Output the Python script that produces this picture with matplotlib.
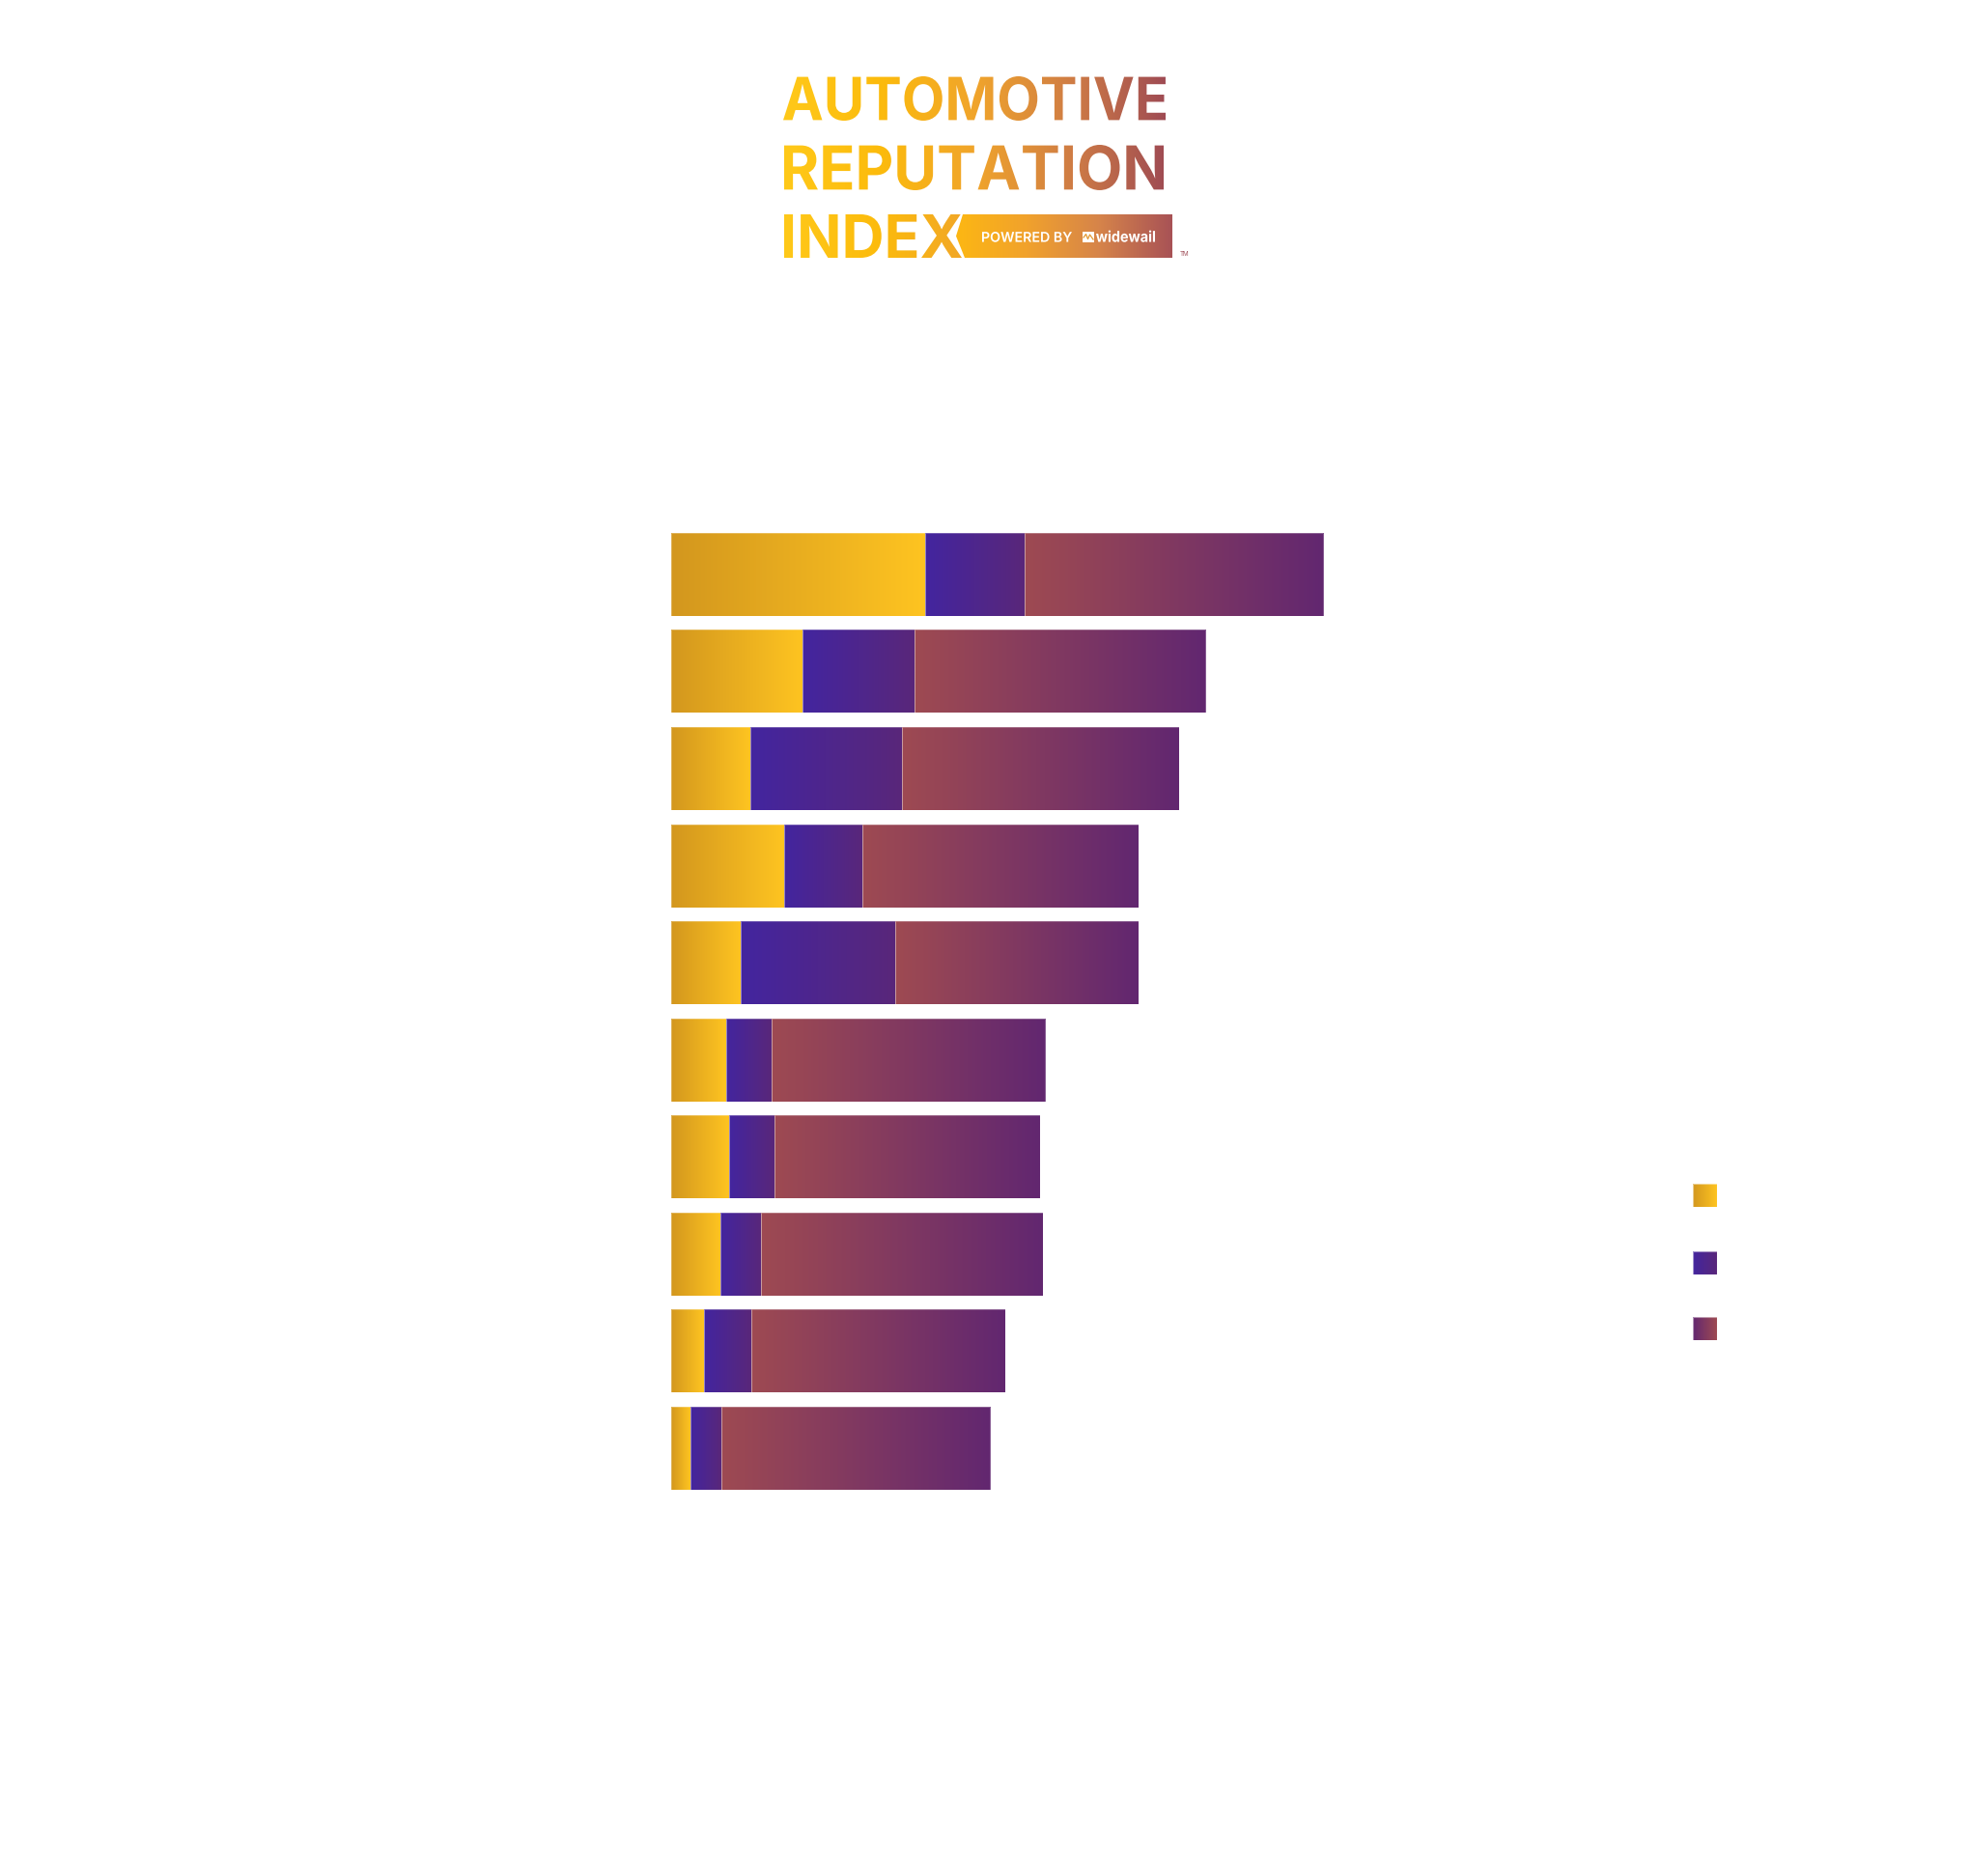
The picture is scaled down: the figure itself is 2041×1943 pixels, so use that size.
import numpy as np
import matplotlib
matplotlib.use('Agg')
import matplotlib.pyplot as plt
from matplotlib.colors import LinearSegmentedColormap
from matplotlib.textpath import TextPath
from matplotlib.font_manager import FontProperties
from matplotlib.patches import PathPatch, Polygon, Rectangle
from matplotlib.transforms import Affine2D

# series values (arbitrary units)
rows = list(range(10))
series_a = [105.0, 54.4, 32.8, 46.6, 28.6, 22.6, 24.0, 20.2, 13.6, 7.9]
series_b = [41.2, 46.4, 62.6, 32.7, 64.1, 18.8, 18.7, 17.1, 19.5, 12.7]
series_c = [123.8, 120.5, 114.8, 114.2, 100.8, 113.3, 110.0, 116.6, 105.2, 111.3]

# gradients for each series (left -> right)
grad_a = ['#D3971E', '#FEC421']
grad_b = ['#43259F', '#59277A']
grad_c = ['#9E4A52', '#622770']
logo_grad = ['#FFC91A', '#FCBB0C', '#F0A42C', '#CF7C45', '#9D4954']
banner_grad = ['#FDB812', '#F1A22C', '#D6844A', '#A85256']

W, H = 2041, 1943
fig = plt.figure(figsize=(W / 100, H / 100), dpi=100)
fig.patch.set_facecolor('white')

hgrad = np.linspace(0, 1, 256).reshape(1, -1)


def gradient_fill(ax, patch, colors, zorder=2, reverse=False):
    # paint a horizontal gradient clipped to a patch
    cmap = LinearSegmentedColormap.from_list('g', colors)
    x0, y0 = patch.get_x(), patch.get_y()
    x1, y1 = x0 + patch.get_width(), y0 + patch.get_height()
    img = ax.imshow(hgrad[:, ::-1] if reverse else hgrad, cmap=cmap, aspect='auto',
                    extent=(x0, x1, y1, y0), interpolation='bilinear', zorder=zorder)
    img.set_clip_path(patch)
    return img


# ---- main stacked bar chart ----
ax = fig.add_axes([695.2 / W, 1 - 1550.2 / H, 750 / W, 1005.6 / H])
left = np.zeros(len(rows))
for vals, grad in [(series_a, grad_a), (series_b, grad_b), (series_c, grad_c)]:
    bars = ax.barh(rows, vals, left=left, height=0.855, facecolor='none',
                   edgecolor=(1, 1, 1, 0.3), linewidth=0.6, zorder=3)
    for p in bars.patches:
        gradient_fill(ax, p, grad)
    left = left + np.array(vals)
ax.set_xlim(0, 300)
ax.set_ylim(9.5, -0.5)
ax.axis('off')

# ---- overlay axes in pixel coordinates for logo and legend ----
ov = fig.add_axes([0, 0, 1, 1])
ov.set_xlim(0, W)
ov.set_ylim(H, 0)
ov.axis('off')
ov.patch.set_alpha(0)


def fitted_text(text, box, weight='bold', family='Inter'):
    # text path scaled to fill a pixel box (x0, y0, x1, y1), y pointing down
    tp = TextPath((0, 0), text, size=100, prop=FontProperties(family=family, weight=weight))
    ext = tp.get_extents()
    x0, y0, x1, y1 = box
    sx = (x1 - x0) / ext.width
    sy = (y1 - y0) / ext.height
    tr = Affine2D().translate(-ext.x0, -ext.y0).scale(sx, -sy).translate(x0, y1)
    return tr.transform_path(tp)


logo_cmap = LinearSegmentedColormap.from_list('logo', logo_grad)
for word, box in [('AUTOMOTIVE', (811, 79, 1207, 125)),
                  ('REPUTATION', (812, 150, 1205, 197)),
                  ('INDEX', (812, 222, 996, 267))]:
    path = fitted_text(word, box)
    pp = PathPatch(path, facecolor='none', edgecolor='none')
    ov.add_patch(pp)
    img = ov.imshow(hgrad, cmap=logo_cmap, aspect='auto',
                    extent=(810, 1212, 270, 75), interpolation='bilinear', zorder=2)
    img.set_clip_path(pp)

# banner with chevron notch
banner = Polygon([(997, 222), (1214, 222), (1214, 267), (999, 267), (990, 244.5)],
                 closed=True, facecolor='none', edgecolor='none')
ov.add_patch(banner)
bcmap = LinearSegmentedColormap.from_list('banner', banner_grad)
bimg = ov.imshow(hgrad, cmap=bcmap, aspect='auto', extent=(987, 1214, 267, 222),
                 interpolation='bilinear', zorder=2)
bimg.set_clip_path(banner)

ov.add_patch(PathPatch(fitted_text('POWERED BY', (1017, 240, 1110, 250.7), weight='semibold'),
                       facecolor='white', edgecolor='none', zorder=4))
ov.add_patch(Rectangle((1121, 239.5), 12, 11.5, facecolor='white', edgecolor='none', zorder=4))
ov.plot([1122, 1124.5, 1126.5, 1128.5, 1132], [246, 242.5, 247.5, 243, 248], color='#E39A35',
        lw=0.9, zorder=5)
ov.add_patch(PathPatch(fitted_text('widewail', (1135, 238.5, 1196, 250.7), weight='bold'),
                       facecolor='white', edgecolor='none', zorder=4))
ov.text(1222, 266, 'TM', fontsize=4.5, color='#A0505A', family='Inter', va='bottom', ha='left')

# ---- legend squares (no labels in the picture) ----
for top, grad, rev in [(1226, grad_a, False), (1295.5, grad_b, False), (1364, grad_c, True)]:
    sq = Rectangle((1753, top), 24.5, 24.5, facecolor='none',
                   edgecolor=(1, 1, 1, 0.5), linewidth=0.8, zorder=3)
    ov.add_patch(sq)
    gradient_fill(ov, sq, grad, reverse=rev)
ov.set_xlim(0, W)
ov.set_ylim(H, 0)

fig.savefig('out.png', dpi=100, facecolor='white')
